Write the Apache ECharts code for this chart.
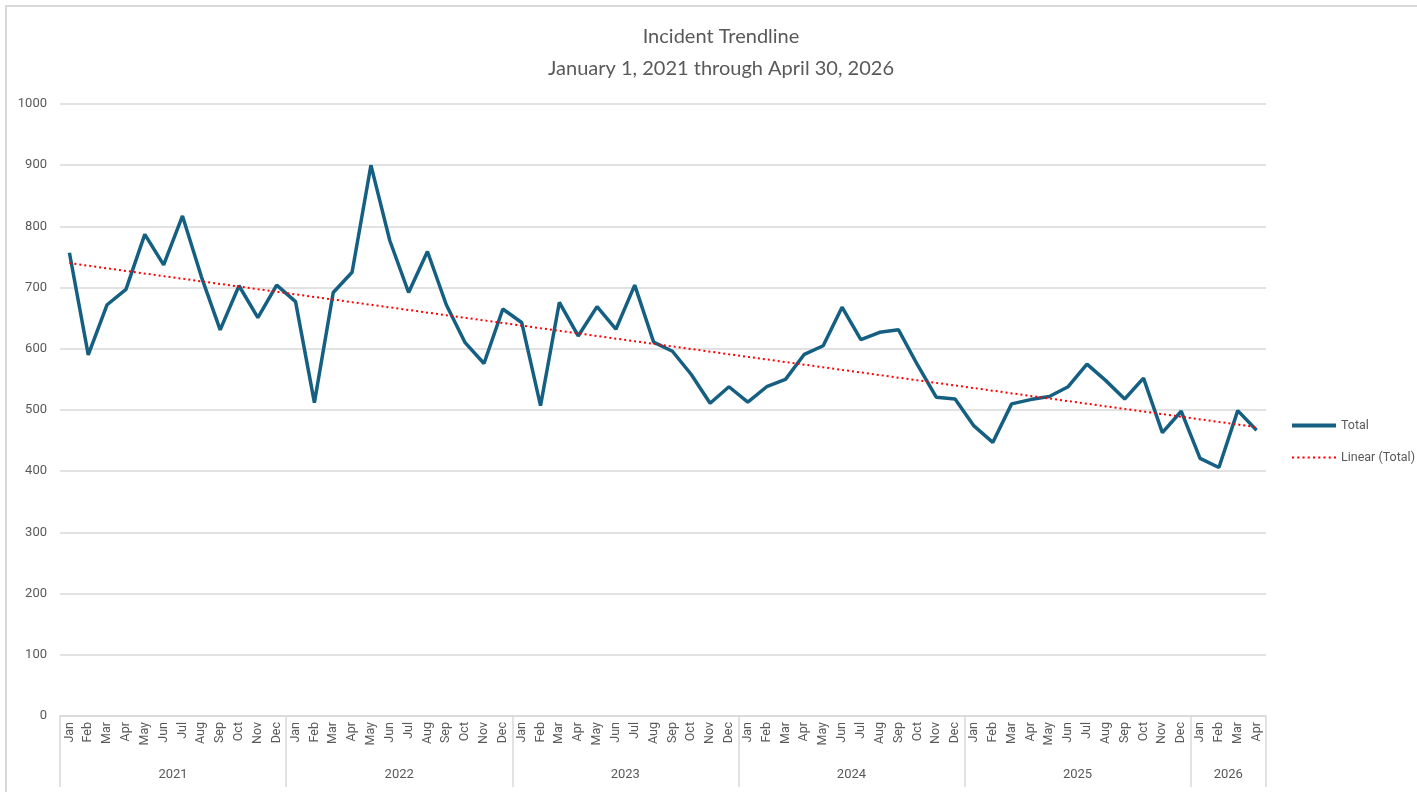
<!DOCTYPE html>
<html>
<head>
    <meta charset="utf-8">
    <title>Incident Trendline</title>
    <script src="https://cdn.jsdelivr.net/npm/echarts@6/dist/echarts.min.js"></script>
    <style>
        html, body { margin: 0; padding: 0; background: #fff; }
        #frame {
            position: absolute; left: 5px; top: 5px; width: 1412px; height: 787px;
            border-top: 2px solid #d9d9d9; border-left: 2px solid #d9d9d9;
        }
        #chart1 { position: absolute; left: 0; top: 0; width: 1417px; height: 792px; }
    </style>
</head>
<body>
<div id="frame"></div>
<div id="chart1"></div>
<script type="text/javascript">
    // month labels, repeated for each year
    var monthNames = ['Jan','Feb','Mar','Apr','May','Jun','Jul','Aug','Sep','Oct','Nov','Dec'];
    var years = ['2021','2022','2023','2024','2025','2026'];
    var monthsPerYear = [12, 12, 12, 12, 12, 4];

    // monthly totals
    var total2021 = [757, 590, 672, 697, 787, 737, 817, 718, 631, 703, 651, 704];
    var total2022 = [677, 512, 692, 725, 900, 777, 692, 759, 672, 610, 576, 665];
    var total2023 = [643, 507, 676, 621, 669, 632, 704, 611, 596, 558, 511, 538];
    var total2024 = [513, 538, 550, 591, 605, 668, 615, 627, 631, 574, 521, 518];
    var total2025 = [474, 447, 510, 517, 522, 538, 575, 548, 518, 552, 463, 498];
    var total2026 = [421, 406, 499, 467];

    // linear trend end points (Excel trendline)
    var trendStart = 740;
    var trendEnd = 472;

    var totals = [].concat(total2021, total2022, total2023, total2024, total2025, total2026);

    var months = [];
    monthsPerYear.forEach(function (n) {
        for (var i = 0; i < n; i++) months.push(monthNames[i]);
    });

    // year axis: one entry per month boundary (n + 1 positions)
    var yearAxisData = [];
    var yearBounds = [0];
    for (var k = 0; k <= months.length; k++) yearAxisData.push('');
    var pos = 0;
    years.forEach(function (y, i) {
        yearAxisData[pos + monthsPerYear[i] / 2] = y;
        pos += monthsPerYear[i];
        yearBounds.push(pos);
    });

    var trend = totals.map(function () { return null; });
    trend[0] = trendStart;
    trend[trend.length - 1] = trendEnd;

    // legend icons: a solid bar and a row of small dots
    var solidIcon = 'path://M0,0 L42,0 L42,4 L0,4 Z';
    var dotIcon = 'path://';
    for (var d = 0; d < 9; d++) {
        dotIcon += 'M' + (d * 5) + ',0 h2 v2 h-2 Z ';
    }

    var textColor = '#595959';
    var gridColor = '#d9d9d9';

    var myChart1 = echarts.init(document.getElementById('chart1'));
    myChart1.setOption({
        animation: false,
        textStyle: { fontFamily: 'Roboto, sans-serif' },
        title: {
            text: 'Incident Trendline\nJanuary 1, 2021 through April 30, 2026',
            left: 716,
            top: 16,
            textAlign: 'center',
            textStyle: {
                fontFamily: 'Lato, sans-serif',
                fontWeight: 'normal',
                fontSize: 20,
                lineHeight: 32,
                color: textColor
            }
        },
        legend: {
            orient: 'vertical',
            left: 1292,
            top: 419,
            padding: 0,
            itemWidth: 44,
            itemHeight: 14,
            itemGap: 19,
            textStyle: { color: textColor, fontSize: 12.5, fontFamily: 'Roboto, sans-serif' },
            data: [
                { name: 'Total', icon: solidIcon },
                { name: 'Linear (Total)', icon: dotIcon }
            ]
        },
        grid: {
            left: 60,
            right: 151,
            top: 104,
            bottom: 76,
            containLabel: false
        },
        xAxis: [
            {
                type: 'category',
                data: months,
                boundaryGap: true,
                axisLine: { lineStyle: { color: gridColor, width: 1.5 } },
                axisTick: { show: false },
                axisLabel: {
                    interval: 0,
                    rotate: 90,
                    margin: 6,
                    color: textColor,
                    fontSize: 12.5
                }
            },
            {
                type: 'category',
                data: yearAxisData,
                boundaryGap: false,
                position: 'bottom',
                axisLine: { show: false },
                axisTick: {
                    show: true,
                    length: 71,
                    interval: function (idx) { return yearBounds.indexOf(idx) >= 0; },
                    lineStyle: { color: gridColor, width: 1.5 }
                },
                axisLabel: {
                    interval: 0,
                    margin: 52,
                    color: textColor,
                    fontSize: 13
                }
            }
        ],
        yAxis: {
            type: 'value',
            min: 0,
            max: 1000,
            interval: 100,
            axisLine: { show: false },
            axisTick: { show: false },
            axisLabel: {
                color: textColor,
                fontSize: 13,
                margin: 13,
                formatter: function (v) { return String(v); }
            },
            splitLine: { lineStyle: { color: gridColor, width: 1.5 } }
        },
        series: [
            {
                name: 'Total',
                type: 'line',
                data: totals,
                symbol: 'none',
                lineStyle: { color: '#156082', width: 3.5 },
                itemStyle: { color: '#156082' }
            },
            {
                name: 'Linear (Total)',
                type: 'line',
                data: trend,
                connectNulls: true,
                symbol: 'none',
                lineStyle: { color: '#ff0000', width: 2, type: [2, 3] },
                itemStyle: { color: '#ff0000' }
            }
        ]
    });
</script>
</body>
</html>
